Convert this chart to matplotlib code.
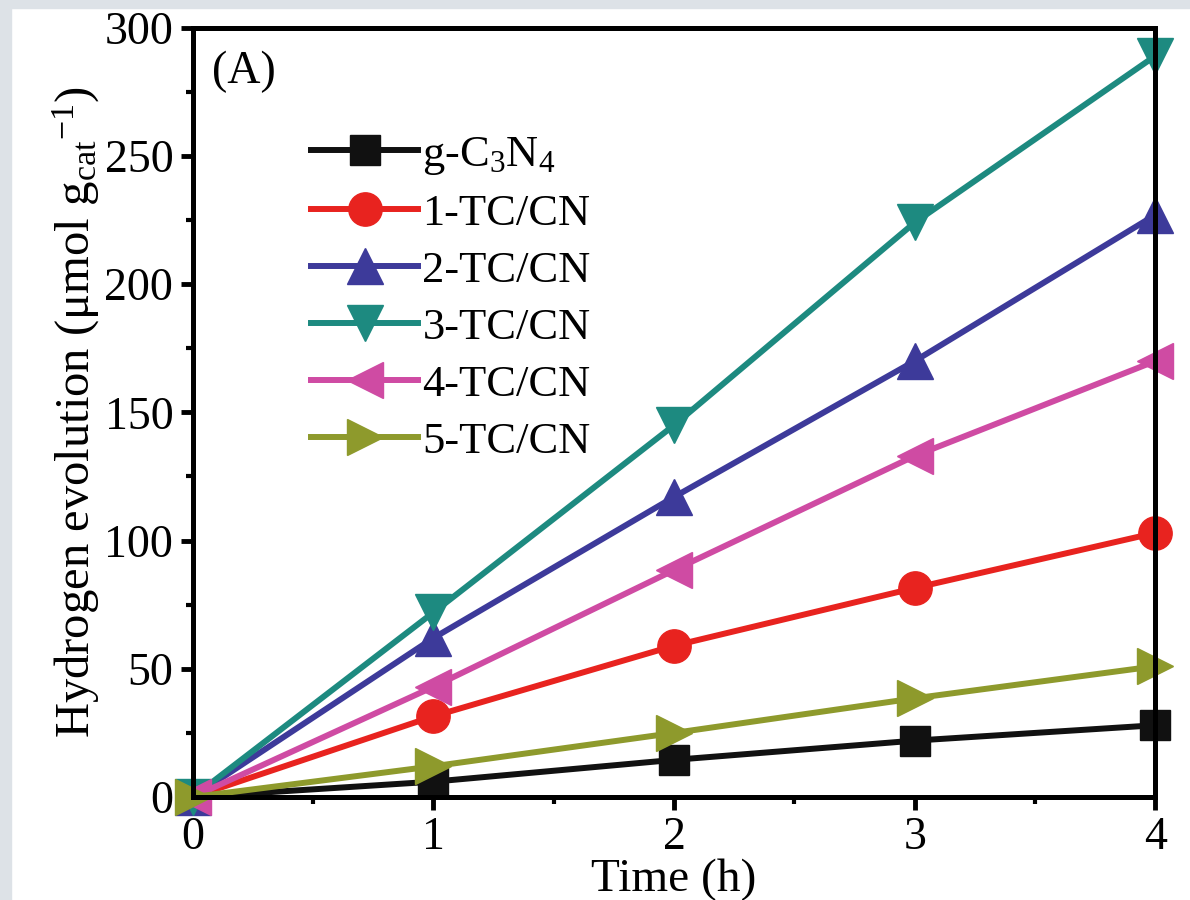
import matplotlib
matplotlib.use("Agg")
import matplotlib.pyplot as plt
from matplotlib.ticker import MultipleLocator
from matplotlib.patches import Rectangle

plt.rcParams['font.family'] = ['Liberation Serif', 'DejaVu Serif']
plt.rcParams['mathtext.fontset'] = 'custom'
plt.rcParams['mathtext.rm'] = 'Liberation Serif'
plt.rcParams['mathtext.it'] = 'Liberation Serif:italic'

time_h = [0, 1, 2, 3, 4]
g_c3n4 = [0, 6, 14.5, 22, 28]
tc1 = [0, 31.5, 59, 81.5, 103]
tc2 = [0, 62, 117, 170, 227]
tc3 = [0, 72, 145, 224, 289]
tc4 = [0, 43, 88.5, 133, 170]
tc5 = [0, 12, 25, 38.5, 51]

labels = [r'g-C$_3$N$_4$', '1-TC/CN', '2-TC/CN', '3-TC/CN', '4-TC/CN', '5-TC/CN']
series = [g_c3n4, tc1, tc2, tc3, tc4, tc5]
colors = ['#111111', '#e8231f', '#3d3a9a', '#1d8a80', '#cf4ba3', '#8e9a2c']
markers = ['s', 'o', '^', 'v', '<', '>']
msizes = [21, 24, 26, 26, 26, 26]

fig = plt.figure(figsize=(11.9, 9), dpi=100)
fig.patches.append(Rectangle((0, 0), 11 / 1190, 1, transform=fig.transFigure,
                             color='#dde2e7', zorder=-10))
fig.patches.append(Rectangle((0, 1 - 8 / 900), 1, 8 / 900, transform=fig.transFigure,
                             color='#dde2e7', zorder=-10))
ax = fig.add_axes([0.162, 0.1144, 0.809, 0.855])

for y, lab, c, m, ms in zip(series, labels, colors, markers, msizes):
    ax.plot(time_h, y, color=c, marker=m, markersize=ms, linewidth=4.3,
            label=lab, clip_on=False)

ax.set_xlim(0, 4)
ax.set_ylim(0, 300)
ax.xaxis.set_major_locator(MultipleLocator(1))
ax.xaxis.set_minor_locator(MultipleLocator(0.5))
ax.yaxis.set_major_locator(MultipleLocator(50))
ax.yaxis.set_minor_locator(MultipleLocator(25))
ax.tick_params(which='major', direction='out', length=9, width=3.5, labelsize=33, pad=5)
ax.tick_params(which='minor', direction='out', length=5, width=3)
for s in ax.spines.values():
    s.set_linewidth(3.6)

ax.set_xlabel('Time (h)', fontsize=34, labelpad=0)
ax.set_ylabel(r'Hydrogen evolution (μmol g$_{\rm cat}$$^{-1}$)', fontsize=35, labelpad=2)
ax.text(0.02, 0.97, '(A)', transform=ax.transAxes, fontsize=33, va='top', ha='left')

ax.legend(loc='upper left', bbox_to_anchor=(0.1, 0.89), frameon=False, fontsize=32,
          handlelength=2.4, handletextpad=0.1, labelspacing=0.38, borderpad=0)

fig.savefig('out.png', dpi=100)
